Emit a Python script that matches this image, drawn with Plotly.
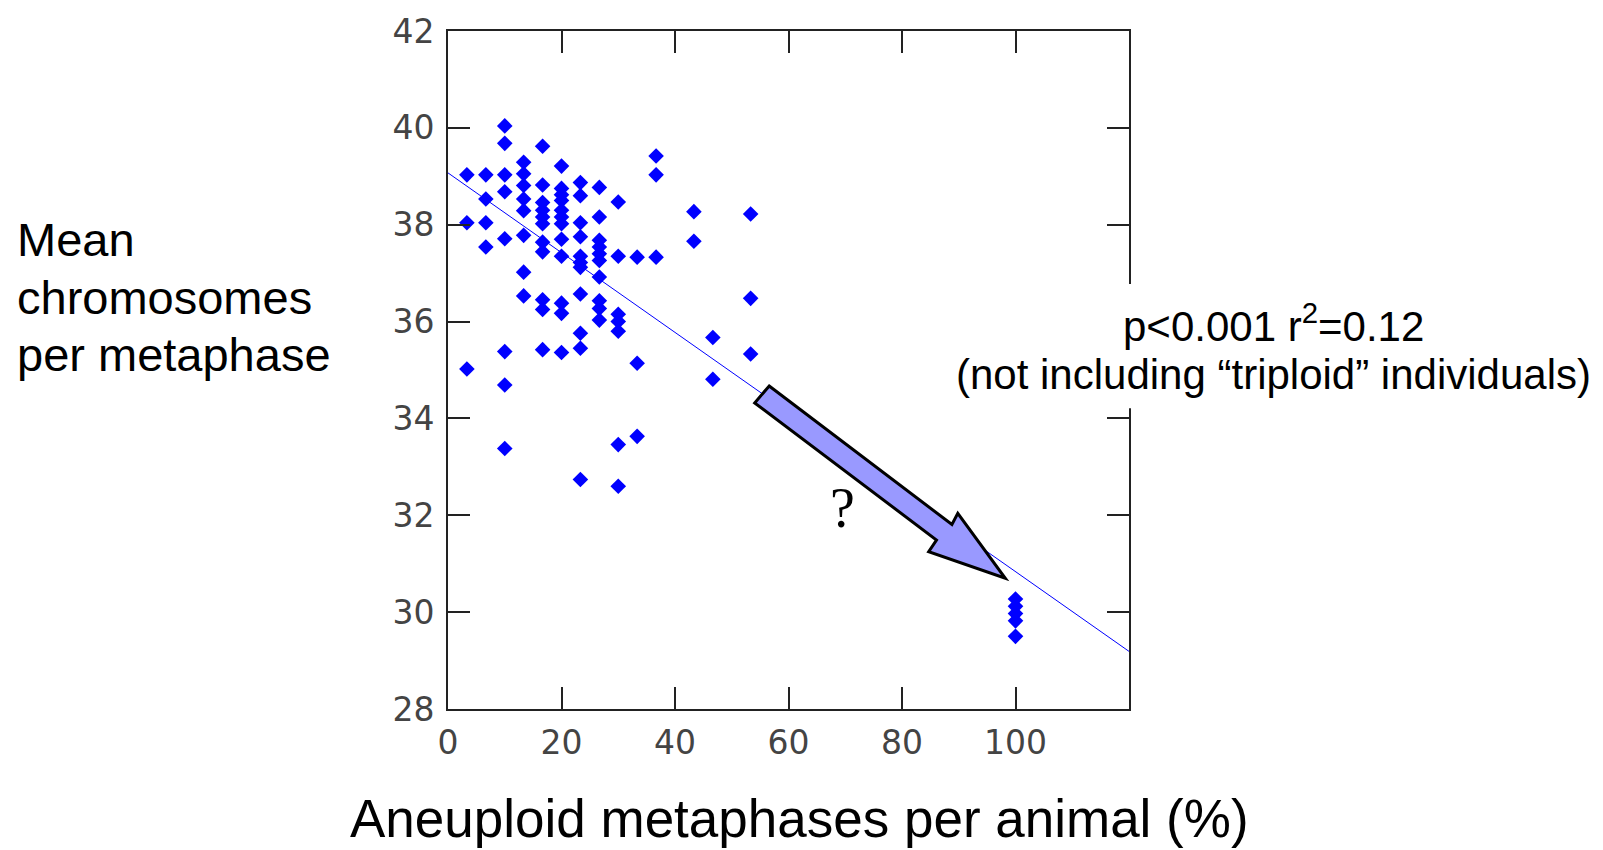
import plotly.graph_objects as go

# ---- data ----
aneuploid_pct = (
    [3.33] * 3 + [6.67] * 4 + [10] * 8 + [13.33] * 8 + [16.67] * 11 + [20] * 12
    + [23.33] * 11 + [26.67] * 10 + [30] * 7 + [33.33] * 3 + [36.67] * 3
    + [43.33] * 2 + [46.67] * 2 + [53.33] * 3 + [100] * 5
)
mean_chromosomes = [
    39.03, 38.04, 35.02,
    39.03, 38.53, 38.04, 37.54,
    40.04, 39.68, 39.03, 38.68, 37.71, 35.38, 34.69, 33.38,
    39.29, 39.05, 38.81, 38.53, 38.29, 37.78, 37.02, 36.53,
    39.62, 38.82, 38.46, 38.30, 38.16, 38.02, 37.64, 37.44, 36.45, 36.25, 35.42,
    39.21, 38.75, 38.62, 38.50, 38.30, 38.16, 38.02, 37.70, 37.35, 36.38, 36.17, 35.36,
    38.87, 38.60, 38.04, 37.75, 37.35, 37.22, 37.12, 36.57, 35.76, 35.45, 32.74,
    38.77, 38.16, 37.68, 37.54, 37.40, 37.26, 36.92, 36.43, 36.27, 36.03,
    38.47, 37.35, 36.15, 36.00, 35.80, 33.46, 32.60,
    37.33, 35.14, 33.63,
    39.42, 39.03, 37.33,
    38.27, 37.66,
    35.67, 34.81,
    38.22, 36.48, 35.33,
    30.27, 30.12, 29.97, 29.82, 29.50,
]
fit_x = [0, 120]
fit_y = [39.07, 29.19]

x_ticks = [0, 20, 40, 60, 80, 100]
y_ticks = [28, 30, 32, 34, 36, 38, 40, 42]

# block arrow outline (data coordinates)
arrow_x = [56.6, 88.8, 89.83, 98.2, 84.7, 86.08, 54.04]
arrow_y = [34.67, 31.81, 32.04, 30.70, 31.25, 31.49, 34.32]

fig = go.Figure()
fig.add_trace(go.Scatter(x=fit_x, y=fit_y, mode="lines",
                         line=dict(color="#0000ff", width=1), hoverinfo="skip"))
fig.add_trace(go.Scatter(x=aneuploid_pct, y=mean_chromosomes, mode="markers",
                         marker=dict(symbol="diamond", size=12, color="#0000ff",
                                     line=dict(width=0))))

path = "M " + " L ".join(f"{a},{b}" for a, b in zip(arrow_x, arrow_y)) + " Z"
fig.add_shape(type="path", path=path, xref="x", yref="y", layer="above",
              fillcolor="#9999ff", line=dict(color="black", width=3))

# white box behind the annotation text (interrupts the right frame line)
fig.add_shape(type="rect", xref="paper", yref="paper",
              x0=0.7225, x1=1.69, y0=0.4435, y1=0.627,
              fillcolor="white", line=dict(width=0), layer="above")

axis_common = dict(
    ticks="inside", ticklen=22, tickwidth=2, tickcolor="#222222",
    showline=True, linewidth=2, linecolor="#222222", mirror="ticks",
    showgrid=False, zeroline=False,
    tickfont=dict(family="DejaVu Sans", size=33, color="#444444"),
)
fig.update_xaxes(range=[0, 120], tickvals=x_ticks, ticklabelstandoff=3, **axis_common)
fig.update_yaxes(range=[28, 42], tickvals=y_ticks, ticklabelstandoff=5, **axis_common)

sans = "Liberation Sans, Arial, sans-serif"
anns = [
    dict(text="Mean", x=-0.6358, y=0.6927, xanchor="left", size=47),
    dict(text="chromosomes", x=-0.6358, y=0.607, xanchor="left", size=47),
    dict(text="per metaphase", x=-0.6358, y=0.5223, xanchor="left", size=47),
    dict(text="Aneuploid metaphases per animal (%)", x=0.5162, y=-0.1611, xanchor="center", size=53),
    dict(text="p<0.001 r<sup>2</sup>=0.12", x=1.2115, y=0.5699, xanchor="center", size=42),
    dict(text="(not including \u201ctriploid\u201d individuals)", x=1.2122, y=0.4934, xanchor="center", size=42),
]
for a in anns:
    fig.add_annotation(text=a["text"], x=a["x"], y=a["y"], xref="paper", yref="paper",
                       xanchor=a["xanchor"], yanchor="middle", showarrow=False,
                       font=dict(family=sans, size=a["size"], color="black"))
fig.add_annotation(text="?", x=69.5, y=32.16, xref="x", yref="y", showarrow=False,
                   font=dict(family="Liberation Serif, Times New Roman, serif", size=56, color="black"))

fig.update_layout(
    width=1603, height=850, autosize=False,
    margin=dict(l=448, r=474, t=28, b=141),
    paper_bgcolor="white", plot_bgcolor="white",
    showlegend=False,
)

fig.write_html("out.html", config={"displayModeBar": False},
               post_script="document.body.style.margin='0';")
